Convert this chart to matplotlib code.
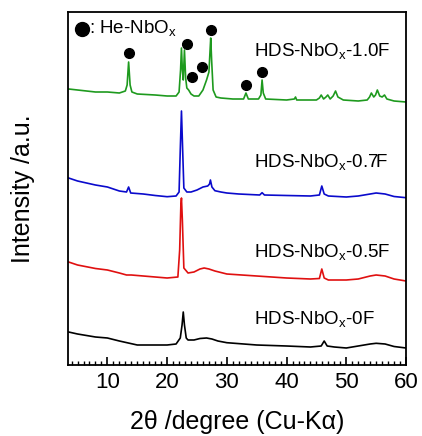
import matplotlib
matplotlib.use("Agg")
import matplotlib.pyplot as plt
from matplotlib.ticker import MultipleLocator

plt.rcParams['font.family'] = ['Liberation Sans', 'DejaVu Sans']
plt.rcParams['mathtext.fontset'] = 'custom'
plt.rcParams['mathtext.rm'] = 'Liberation Sans'

# Vertical values are read as pixel rows (top=0); converted to stacked intensity below
BOTTOM = 365.0

green_x = [3.5, 5, 8, 10, 12, 13.0, 13.3, 13.55, 13.8, 14.1, 15, 18, 20, 21.5, 22.0, 22.25, 22.4, 22.55,
           22.7, 22.9, 23.1, 23.3, 23.6, 24, 24.5, 25.3, 26, 26.6, 27.0, 27.15, 27.3, 27.45, 27.7, 28.2,
           29, 31, 32.8, 33.2, 33.6, 35.3, 35.7, 35.9, 36.1, 36.5, 40, 41.3, 41.5, 41.7, 45, 45.5, 45.8,
           46.2, 46.6, 46.9, 47.3, 47.8, 48.2, 48.6, 49.5, 52, 53.5, 53.9, 54.2, 54.6, 54.9, 55.2, 55.6,
           56.0, 56.4, 56.8, 58, 60]
green_px = [89, 90, 92, 92, 93, 91, 85, 62, 85, 92, 94, 95, 96, 96, 92, 70, 48, 70,
            80, 50, 78, 88, 90, 94, 96, 96, 90, 80, 72, 55, 38, 60, 90, 97,
            98, 99, 99, 93, 99, 99, 95, 80, 93, 99, 100, 99, 97, 100, 100, 98, 95,
            99, 97, 95, 99, 96, 91, 97, 100, 101, 100, 97, 93, 97, 95, 90, 96,
            97, 95, 99, 101, 102]

blue_x = [3.5, 5, 8, 10, 12, 13.2, 13.55, 13.9, 16, 18, 20, 21.5, 22.0, 22.2, 22.4, 22.6, 22.8, 23.3,
          24, 25, 26, 26.8, 27.1, 27.25, 27.5, 28, 29, 30, 32, 35.5, 35.9, 36.3, 40, 44, 45.5, 45.9,
          46.3, 47, 50, 52, 54, 55, 56.5, 58, 60]
blue_px = [178, 181, 185, 187, 191, 192, 187, 193, 194, 195.5, 196.7, 196, 192, 150, 111, 150, 188, 192,
           192, 190, 187, 186, 184, 180, 187, 190.7, 192, 193, 194, 195, 192.7, 195, 195.5, 196, 195, 186,
           194, 196, 197, 196, 194, 193, 194, 196.5, 197.7]

red_x = [3.5, 5, 8, 10, 12, 13.2, 14, 16, 18, 20, 21.8, 22.1, 22.3, 22.4, 22.55, 22.8, 23.5, 24.5, 25.5,
         26.2, 27, 28, 30, 35, 40, 44, 45.5, 45.9, 46.3, 47, 50, 52, 54, 55, 56.5, 58, 60]
red_px = [262, 265, 268.5, 270, 273, 275, 275, 276, 277, 278, 277, 250, 205, 198, 220, 268, 273, 272, 269,
          268, 269, 271, 274, 276, 278, 279, 278.5, 269, 278, 280, 280, 279, 276, 275, 276, 279, 281]

black_x = [3.5, 5, 8, 10, 12, 15, 18, 20, 21.5, 22.2, 22.5, 22.7, 22.9, 23.2, 23.5, 24.5, 25.5, 26.6,
           27.5, 28.5, 30, 35, 40, 44, 45.8, 46.3, 46.8, 48, 50, 52, 54, 55, 56.5, 58, 60]
black_px = [332, 334, 337, 338, 341, 345, 345, 345, 344, 338, 325, 312, 325, 338, 340, 340, 338.5, 338,
            339, 341, 342.7, 345, 346, 347, 346, 341, 346, 347, 348, 346, 344, 343.3, 344, 346.5, 348]

series_labels = ['HDS-NbO$_{\\rm x}$-1.0F', 'HDS-NbO$_{\\rm x}$-0.7F',
                 'HDS-NbO$_{\\rm x}$-0.5F', 'HDS-NbO$_{\\rm x}$-0F']
label_px = [52, 163, 253, 320]

# He-NbOx marker positions (2theta, pixel row)
dot_x = [13.55, 23.3, 24.2, 25.9, 27.3, 33.2, 35.9]
dot_px = [52.7, 44, 77, 67, 30, 85, 71.7]

xticks = [10, 20, 30, 40, 50, 60]

def conv(px):
    return [BOTTOM - p for p in px]

fig = plt.figure(figsize=(4.22, 4.36), dpi=100)
ax = fig.add_axes([68/422, 1-365/436, (406-68)/422, (365-12)/436])

series = [(green_x, green_px, '#1e9a1e'), (blue_x, blue_px, '#0a0acc'),
          (red_x, red_px, '#e01010'), (black_x, black_px, '#000000')]
for x, px, c in series:
    ax.plot(x, conv(px), color=c, lw=1.2)

ax.plot(dot_x, conv(dot_px), 'o', color='black', ms=7, ls='none')

for lab, py in zip(series_labels, label_px):
    ax.text(34.5, BOTTOM - py, lab, fontsize=13.5, va='center', ha='left')

ax.plot([5.7], [BOTTOM - 29], 'o', color='black', ms=10, clip_on=False)
ax.text(7.0, BOTTOM - 29, ': He-NbO$_{\\rm x}$', fontsize=13.5, va='center', ha='left')

ax.set_xlim(3.4, 60)
ax.set_ylim(0, BOTTOM - 12)
ax.set_xticks(xticks)
ax.xaxis.set_minor_locator(MultipleLocator(1))
ax.tick_params(axis='x', which='major', direction='in', length=6, width=1.2, labelsize=16, pad=5)
ax.tick_params(axis='x', which='minor', direction='in', length=3, width=1.0)
ax.set_yticks([])
for s in ax.spines.values():
    s.set_linewidth(1.3)

ax.set_xlabel('2θ /degree (Cu-Kα)', fontsize=18, labelpad=12)
ax.set_ylabel('Intensity /a.u.', fontsize=18, labelpad=24)

fig.savefig('out.png', dpi=100)
